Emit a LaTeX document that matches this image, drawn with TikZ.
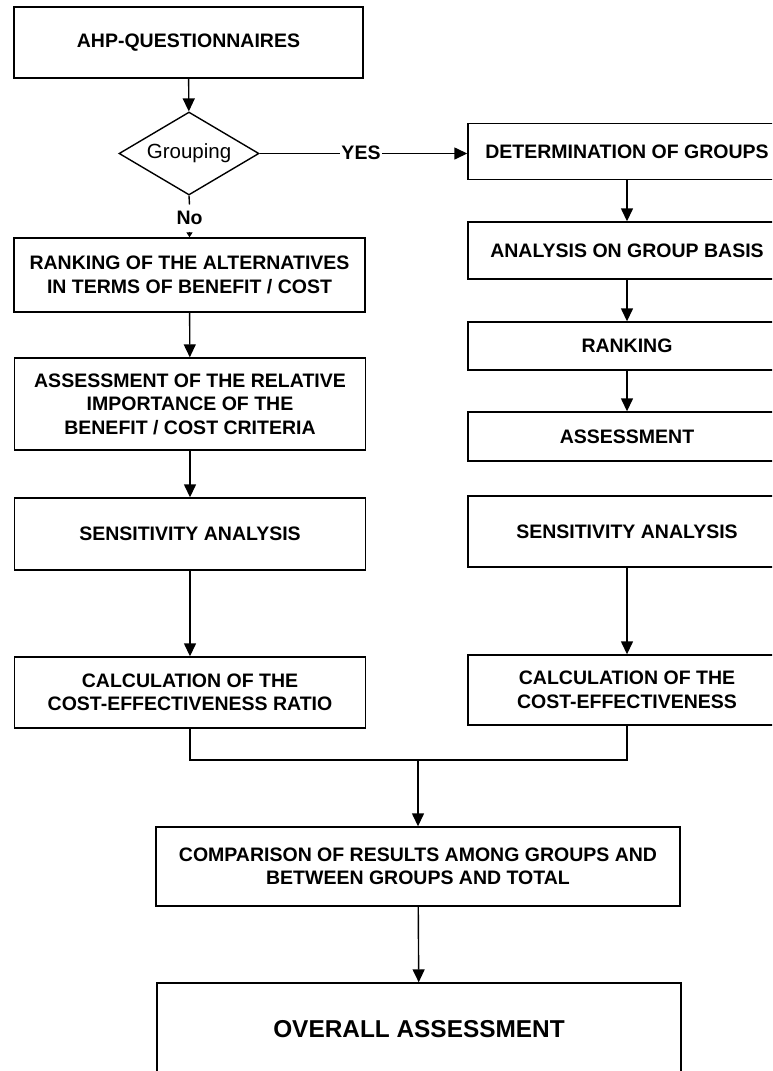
\documentclass[tikz,border=0pt]{standalone}
\usepackage{fontspec}
\setmainfont{Liberation Sans}
\usetikzlibrary{shapes.geometric,arrows.meta}

\begin{document}
\begin{tikzpicture}[x=1pt,y=-1pt,
  line width=1.4pt,
  box/.style={draw, rectangle, inner sep=0pt, align=center,
    font=\bfseries\fontsize{19.5}{23.5}\selectfont},
  leftbox/.style={box, minimum width=351pt},
  rightbox/.style={box, minimum width=318pt},
  widebox/.style={box, minimum width=524pt},
  arr/.style={-{Triangle[length=13pt,width=12pt]}},
  lbl/.style={font=\bfseries\fontsize{19.5}{23.5}\selectfont}]

\useasboundingbox (0,0) rectangle (772,1071);
\clip (0,0) rectangle (772,1071);

% left column
\node[leftbox, minimum width=349pt, minimum height=71pt] (ahp) at (188.5,42.5) {AHP-QUESTIONNAIRES};
\node[draw, diamond, aspect=1.7, inner sep=0pt, minimum width=140pt, minimum height=83pt,
      font=\fontsize{20.5}{24}\selectfont] (grp) at (189,153.5) {Grouping};
\node[leftbox, minimum height=74pt] (rank) at (189.5,275)
  {\fontsize{19.5}{28}\selectfont RANKING OF THE ALTERNATIVES\\IN TERMS OF BENEFIT / COST};
\node[leftbox, minimum height=92pt] (assess) at (190,404)
  {ASSESSMENT OF THE RELATIVE\\IMPORTANCE OF THE\\BENEFIT / COST CRITERIA};
\node[leftbox, minimum height=72pt] (sens) at (190,534) {SENSITIVITY ANALYSIS};
\node[leftbox, minimum height=71pt] (calc) at (190,692.5)
  {CALCULATION OF THE\\COST-EFFECTIVENESS RATIO};

% right column (runs past the right margin)
\node[rightbox, minimum height=56pt] (det) at (627,151.5) {DETERMINATION OF GROUPS};
\node[rightbox, minimum height=57pt] (ana) at (627,250.5) {ANALYSIS ON GROUP BASIS};
\node[rightbox, minimum height=48pt] (rnk) at (627,346) {RANKING};
\node[rightbox, minimum height=49pt] (ass) at (627,436.5) {ASSESSMENT};
\node[rightbox, minimum height=71pt] (sens2) at (627,531.5) {SENSITIVITY ANALYSIS};
\node[rightbox, minimum height=70pt] (calc2) at (627,690)
  {CALCULATION OF THE\\COST-EFFECTIVENESS};

% bottom
\node[widebox, minimum height=79pt] (comp) at (418,866.5)
  {COMPARISON OF RESULTS AMONG GROUPS AND\\BETWEEN GROUPS AND TOTAL};
\node[widebox, minimum height=92pt,
      font=\bfseries\fontsize{24.4}{28}\selectfont] (over) at (419,1029) {OVERALL ASSESSMENT};

% connectors
\draw[arr] (ahp) -- (grp);
\draw[arr] (grp.east) -- (det.west |- grp.east);
\node[lbl, fill=white, inner xsep=1pt] (yes) at (361,152.5) {YES};
\node[lbl, inner ysep=6pt] (no) at (189.5,218) {No};
\draw (grp.south) -- (no.north);
\draw[-{Triangle[length=5pt,width=6pt]}] (no.south) -- (rank.north);
\draw[arr] (rank) -- (assess);
\draw[arr] (assess) -- (sens);
\draw[arr] (sens) -- (calc);
\draw[arr] (det) -- (ana);
\draw[arr] (ana) -- (rnk);
\draw[arr] (rnk) -- (ass);
\draw[arr] (sens2) -- (calc2);
\coordinate (j) at (418,760);
\draw (calc.south) |- (j) -| (calc2.south);
\draw[arr] (j) -- (comp);
\draw[arr] (comp) -- (over);
\end{tikzpicture}
\end{document}
